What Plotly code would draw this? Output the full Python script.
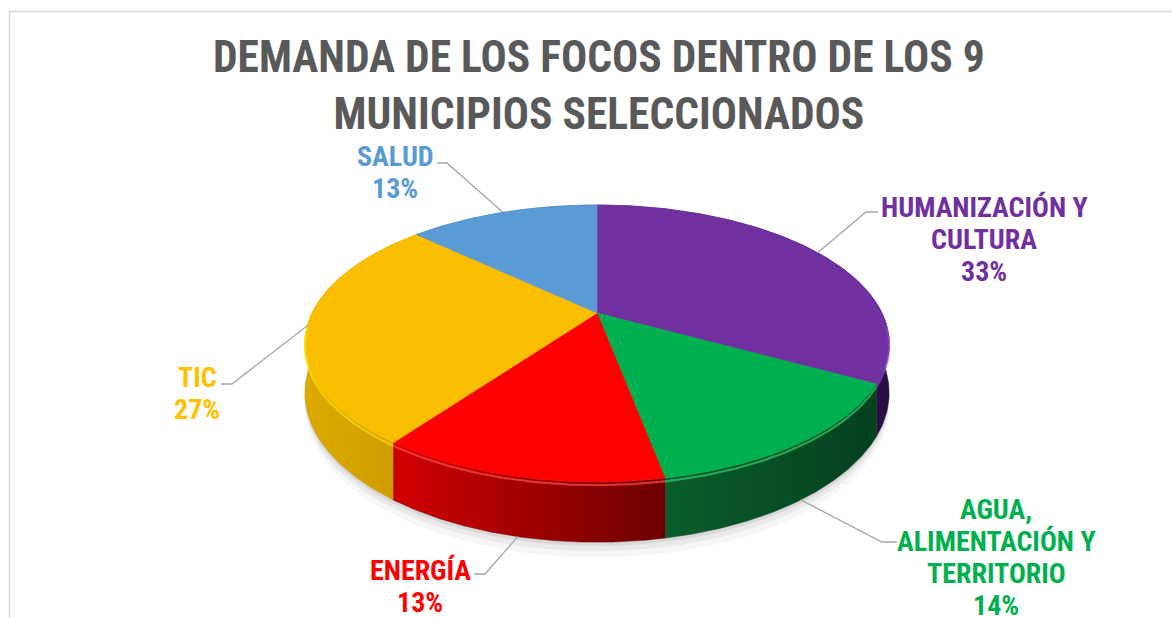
import numpy as np
import plotly.graph_objects as go

# ---------------- data ----------------
categories = ["HUMANIZACIÓN Y<br>CULTURA", "AGUA,<br>ALIMENTACIÓN Y<br>TERRITORIO", "ENERGÍA", "TIC", "SALUD"]
values = [33, 14, 13, 27, 13]
colors = ["#7030A0", "#00B050", "#FF0000", "#F9BE00", "#5B9BD5"]
label_colors = ["#7030A0", "#00B050", "#FF0000", "#FFC000", "#5B9BD5"]
side_left = ["#3d1a5c", "#0b5e2c", "#d20000", "#dcaa00", "#3f75a6"]
side_right = ["#2a0e42", "#04401d", "#6c0000", "#cc9900", "#2f5a80"]
rim_colors = ["#8a4cc0", "#2fd070", "#ff4a4a", "#ffe000", "#7fb3e3"]
title_text = "DEMANDA DE LOS FOCOS DENTRO DE LOS 9<br>MUNICIPIOS SELECCIONADOS"

# ---------------- layout / geometry settings ----------------
W, H_FIG = 1172, 618
CX, CY = 597.0, 313.0      # pie apex in pixel space
A, B, E = 285.0, 131.8, 0.22  # horizontal radius, vertical radius, perspective
DEPTH = 47.0
FONT = "Liberation Sans Narrow, Arial Narrow, Roboto Condensed, Roboto, sans-serif"
LABEL_SIZE = 28
LINE_PITCH = 32

# label anchors (text block centre) and leader-line elbows
label_pos = [(984, 239), (996, 557), (420, 586), (197, 393), (395, 172)]
elbows = [((866, 212), (878, 212)), ((882, 542), (897, 542)), ((485, 574), (474, 574)),
          ((232, 384), (221, 384)), ((447, 163), (437, 163))]


def proj(theta_deg, drop=0.0):
    t = np.radians(theta_deg)
    u, v = np.sin(t), np.cos(t)
    s = 1 + E * v
    return CX + A * u / s, CY - B * v / s + drop / s


total = float(sum(values))
bounds = np.concatenate([[0], np.cumsum(values) / total * 360.0])

fig = go.Figure()

# soft shadow under the pie
full = np.linspace(0, 360, 361)
for extra, alpha in [(12, 0.035), (7, 0.05), (3, 0.07)]:
    sx, sy = proj(full, DEPTH + extra)
    fig.add_trace(go.Scatter(x=sx, y=sy, fill="toself", mode="lines", line=dict(width=0),
                             fillcolor=f"rgba(0,0,0,{alpha})", hoverinfo="skip", showlegend=False))

# side walls
for i in range(len(values)):
    th = np.linspace(bounds[i], bounds[i + 1], 120)
    xt, yt = proj(th)
    xb, yb = proj(th[::-1], DEPTH)
    fig.add_trace(go.Scatter(
        x=np.concatenate([xt, xb]), y=np.concatenate([yt, yb]),
        fill="toself", mode="lines", line=dict(width=0.5, color=side_right[i]),
        fillgradient=dict(type="horizontal",
                          colorscale=[[0, side_left[i]], [1, side_right[i]]]),
        hoverinfo="skip", showlegend=False))

# top faces
for i in range(len(values)):
    th = np.linspace(bounds[i], bounds[i + 1], 160)
    xt, yt = proj(th)
    fig.add_trace(go.Scatter(
        x=np.concatenate([[CX], xt, [CX]]), y=np.concatenate([[CY], yt, [CY]]),
        fill="toself", mode="lines", line=dict(width=0.6, color=colors[i]),
        fillcolor=colors[i], name=categories[i].replace("<br>", " "),
        text=f"{values[i]}%", hoverinfo="name+text", showlegend=False))

# rim highlight on the front edge
for i in range(len(values)):
    lo, hi = max(bounds[i], 95), min(bounds[i + 1], 265)
    if hi > lo:
        th = np.linspace(lo, hi, 100)
        xr, yr = proj(th, 2.5)
        fig.add_trace(go.Scatter(x=xr, y=yr, mode="lines",
                                 line=dict(width=2.2, color=rim_colors[i]),
                                 opacity=0.7, hoverinfo="skip", showlegend=False))

# leader lines and labels
annotations = []
for i in range(len(values)):
    mid = (bounds[i] + bounds[i + 1]) / 2
    v = np.cos(np.radians(mid))
    px, py = proj(mid, DEPTH if v < -0.5 else 0.0)
    (ex, ey), (hx, hy) = elbows[i]
    fig.add_trace(go.Scatter(x=[px, ex, hx], y=[py, ey, hy], mode="lines",
                             line=dict(color="#a6a6a6", width=1.3),
                             hoverinfo="skip", showlegend=False))
    lx, ly = label_pos[i]
    lines = categories[i].split("<br>") + [f"{values[i]}%"]
    n = len(lines)
    for k, txt in enumerate(lines):
        annotations.append(dict(
            x=lx, y=ly + (k - (n - 1) / 2) * LINE_PITCH, xref="x", yref="y", showarrow=False,
            text=f"<b>{txt}</b>",
            font=dict(family=FONT, size=LABEL_SIZE, color=label_colors[i]),
            align="center", xanchor="center", yanchor="middle"))

fig.update_layout(
    width=W, height=H_FIG,
    margin=dict(l=0, r=0, t=0, b=0),
    paper_bgcolor="white", plot_bgcolor="white",
    xaxis=dict(range=[0, W], visible=False, fixedrange=True),
    yaxis=dict(range=[H_FIG, 0], visible=False, fixedrange=True),
    title=dict(text=f"<b>{title_text}</b>", x=0.511, xanchor="center",
               y=1 - 72 / H_FIG, yanchor="middle", yref="container",
               font=dict(family=FONT, size=43.5, color="#595959")),
    annotations=annotations,
    shapes=[dict(type="rect", xref="x", yref="y", x0=9.5, y0=11.5, x1=1200, y1=660,
                 line=dict(color="#d9d9d9", width=1.5), layer="below")],
    showlegend=False,
)

fig.write_html("out.html", config={"displayModeBar": False},
               post_script="document.body.style.margin='0';document.body.style.overflow='hidden';")
